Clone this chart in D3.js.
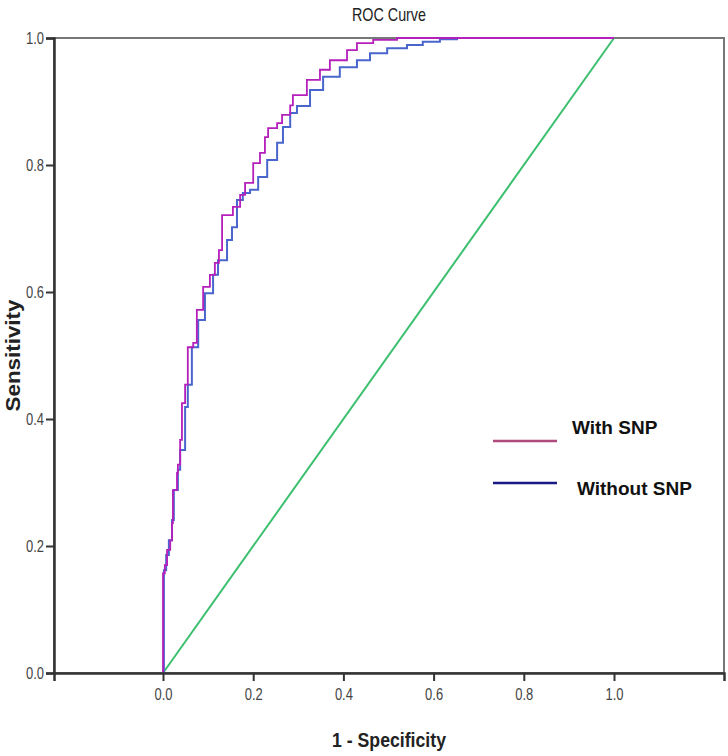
<!DOCTYPE html>
<html><head><meta charset="utf-8">
<script src="https://cdn.jsdelivr.net/npm/d3@7"></script>
<style>body{margin:0;background:#fff}svg{display:block}</style>
</head><body>
<script>
const titleText = "ROC Curve";
const xLabel = "1 - Specificity";
const yLabel = "Sensitivity";
const xTicks = [0, 0.2, 0.4, 0.6, 0.8, 1.0];
const yTicks = [0, 0.2, 0.4, 0.6, 0.8, 1.0];
const seriesNames = ["With SNP", "Without SNP"];
const withFPR = [0,0,0.004,0.009,0.016,0.020,0.022,0.031,0.033,0.038,0.042,0.049,0.055,0.067,0.075,0.089,0.104,0.115,0.124,0.131,0.142,0.155,0.171,0.182,0.200,0.215,0.226,0.233,0.253,0.264,0.282,0.288,0.319,0.348,0.370,0.408,0.430,0.466,0.519,0.652,1.0];
const withTPR = [0,0.157,0.170,0.194,0.209,0.236,0.288,0.315,0.328,0.367,0.425,0.454,0.513,0.520,0.572,0.608,0.627,0.646,0.666,0.721,0.721,0.734,0.753,0.772,0.803,0.819,0.844,0.858,0.866,0.879,0.894,0.910,0.934,0.950,0.965,0.981,0.992,0.997,1.0,1.0,1.0];
const withoutFPR = [0,0.002,0.007,0.013,0.020,0.024,0.033,0.038,0.049,0.055,0.064,0.078,0.093,0.111,0.122,0.142,0.153,0.164,0.177,0.193,0.211,0.231,0.253,0.266,0.282,0.297,0.326,0.355,0.392,0.430,0.459,0.497,0.541,0.576,0.614,0.652,1.0];
const withoutTPR = [0,0.162,0.186,0.209,0.241,0.288,0.320,0.351,0.419,0.454,0.513,0.556,0.598,0.627,0.650,0.682,0.702,0.745,0.756,0.761,0.781,0.808,0.835,0.860,0.882,0.893,0.918,0.939,0.954,0.965,0.976,0.984,0.989,0.994,0.998,1.0,1.0];
const refLine = [0, 1];

const W = 728, H = 756;
const mLeft = 54, mRight = 724, mTop = 38, mBottom = 673;
const svg = d3.select("body").append("svg").attr("width", W).attr("height", H);

const x = d3.scaleLinear().domain([-0.2417, 1.2439]).range([mLeft, mRight]);
const y = d3.scaleLinear().domain([0, 1]).range([mBottom, mTop]);

const font = "'Liberation Sans',Arial,sans-serif";

svg.append("rect").attr("x", mLeft).attr("y", mTop).attr("width", mRight-mLeft).attr("height", mBottom-mTop)
  .attr("fill", "none").attr("stroke", "#777").attr("stroke-width", 2);

svg.append("line").attr("x1", x(refLine[0])).attr("y1", y(refLine[0]))
  .attr("x2", x(refLine[1])).attr("y2", y(refLine[1]))
  .attr("stroke", "#3cbf6e").attr("stroke-width", 2);

const line = d3.line().x(d => x(d[0])).y(d => y(d[1])).curve(d3.curveStepAfter);
const withData = withFPR.map((v,i)=>[v, withTPR[i]]);
const withoutData = withoutFPR.map((v,i)=>[v, withoutTPR[i]]);

svg.append("path").datum(withoutData).attr("d", line)
  .attr("fill","none").attr("stroke","#4a66cc").attr("stroke-width",2);
svg.append("path").datum(withData).attr("d", line)
  .attr("fill","none").attr("stroke","#b51fbb").attr("stroke-width",1.8);

const xAxis = svg.append("g").attr("transform", `translate(0,${mBottom})`)
  .call(d3.axisBottom(x).tickValues(xTicks).tickFormat(d3.format(".1f")).tickSize(8).tickPadding(8));
const yAxis = svg.append("g").attr("transform", `translate(${mLeft},0)`)
  .call(d3.axisLeft(y).tickValues(yTicks).tickFormat(d3.format(".1f")).tickSize(8).tickPadding(2));
[xAxis, yAxis].forEach(g => {
  g.select(".domain").attr("stroke", "#333").attr("stroke-width", 2.5);
  g.selectAll(".tick line").attr("stroke", "#333").attr("stroke-width", 2);
  g.selectAll(".tick text").attr("fill", "#444").style("font-family", font).style("font-size", "16px")
    .attr("textLength", 18).attr("lengthAdjust", "spacingAndGlyphs");
});

svg.append("text").attr("x", (mLeft+mRight)/2).attr("y", 21).attr("text-anchor","middle")
  .style("font-family", font).style("font-size","19px").attr("fill","#222")
  .attr("textLength", 74).attr("lengthAdjust", "spacingAndGlyphs").text(titleText);
svg.append("text").attr("x", (mLeft+mRight)/2).attr("y", 747).attr("text-anchor","middle")
  .style("font-family", font).style("font-size","21px").style("font-weight","bold").attr("fill","#222")
  .attr("textLength", 114).attr("lengthAdjust", "spacingAndGlyphs").text(xLabel);
svg.append("text").attr("transform", `translate(20,${(mTop+mBottom)/2}) rotate(-90)`).attr("text-anchor","middle")
  .style("font-family", font).style("font-size","20px").style("font-weight","bold").attr("fill","#222")
  .attr("textLength", 112).attr("lengthAdjust", "spacingAndGlyphs").text(yLabel);

const legendColors = ["#b04a7c", "#1a1a86"];
const legY = [441, 483];
const legTextX = [572, 577];
const legTextY = [434, 495];
seriesNames.forEach((n,i) => {
  svg.append("line").attr("x1", 493).attr("x2", 557).attr("y1", legY[i]).attr("y2", legY[i])
    .attr("stroke", legendColors[i]).attr("stroke-width", 2.5);
  svg.append("text").attr("x", legTextX[i]).attr("y", legTextY[i])
    .style("font-family", font).style("font-size","19px").style("font-weight","bold")
    .attr("fill","#111").text(n);
});
</script>
</body></html>
